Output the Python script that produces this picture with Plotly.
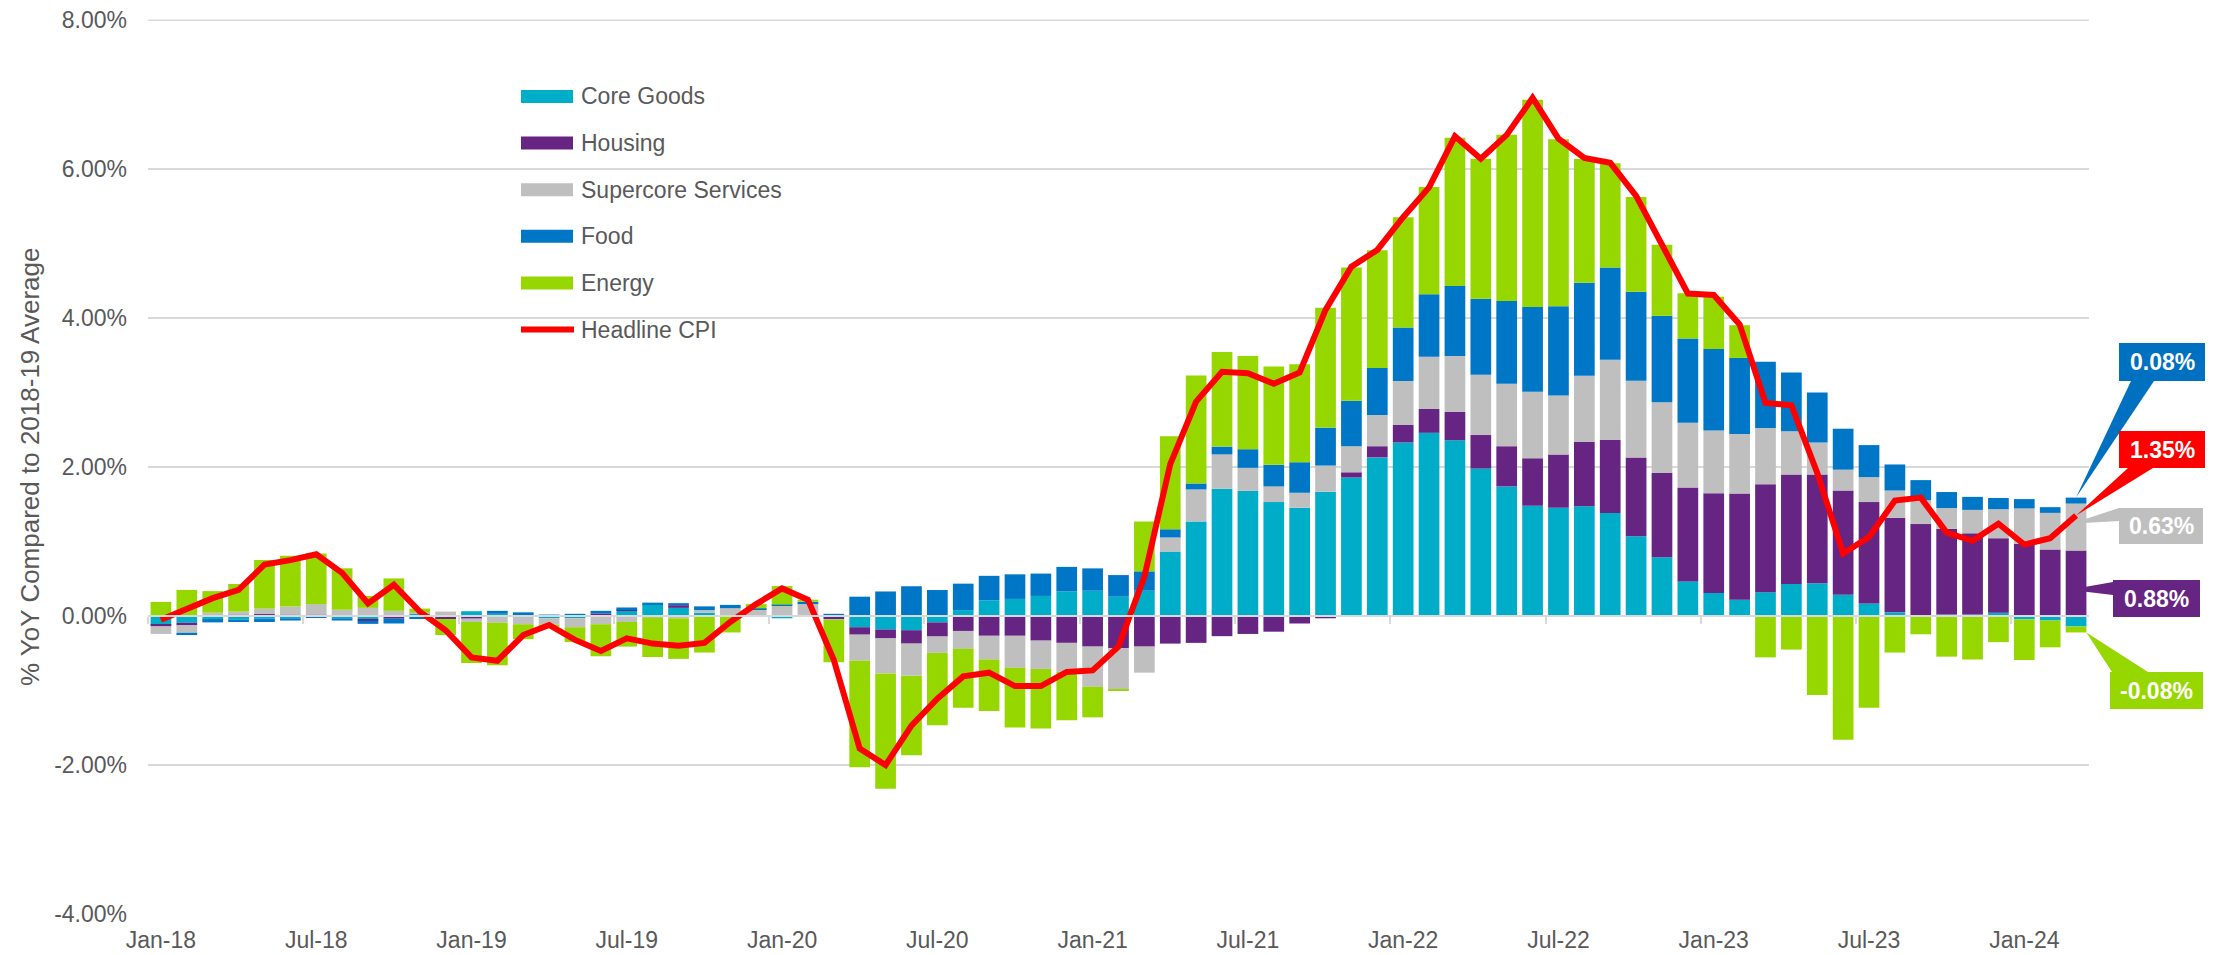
import plotly.graph_objects as go

MONTH_NAMES = ["Jan", "Feb", "Mar", "Apr", "May", "Jun", "Jul", "Aug", "Sep", "Oct", "Nov", "Dec"]
months = [f"{m}-{y}" for y in range(18, 25) for m in MONTH_NAMES][:75]

core_goods = [-0.12, -0.09, -0.04, -0.05, -0.035, -0.03, 0.00, -0.03, -0.045, 0.00,
              0.03, 0.01, 0.065, 0.03, 0.01, -0.03, -0.03, 0.00, 0.07, 0.16,
              0.11, 0.045, 0.01, 0.00, -0.03, 0.015, -0.01, -0.15, -0.18, -0.19,
              -0.085, 0.08, 0.21, 0.23, 0.27, 0.33, 0.34, 0.26, 0.34, 0.865,
              1.27, 1.71, 1.68, 1.53, 1.455, 1.67, 1.86, 2.13, 2.33, 2.46,
              2.36, 1.98, 1.74, 1.48, 1.455, 1.475, 1.385, 1.07, 0.79, 0.465,
              0.31, 0.22, 0.32, 0.43, 0.44, 0.285, 0.17, 0.05, 0.00, 0.02,
              0.02, 0.045, -0.045, -0.06, -0.14]

housing = [-0.02, -0.035, 0.00, 0.02, 0.027, 0.02, 0.02, 0.00, -0.02, -0.035,
           0.00, -0.04, -0.035, 0.00, 0.00, 0.00, 0.00, 0.035, 0.02, 0.00,
           0.036, 0.00, 0.00, 0.00, 0.00, 0.00, -0.03, -0.10, -0.12, -0.18,
           -0.19, -0.20, -0.265, -0.265, -0.33, -0.36, -0.41, -0.43, -0.41, -0.37,
           -0.36, -0.27, -0.24, -0.21, -0.10, -0.03, 0.07, 0.15, 0.235, 0.32,
           0.38, 0.45, 0.54, 0.64, 0.715, 0.86, 0.98, 1.06, 1.13, 1.26,
           1.34, 1.425, 1.45, 1.47, 1.46, 1.40, 1.36, 1.27, 1.235, 1.15,
           1.09, 1.00, 0.97, 0.895, 0.88]

supercore = [-0.10, -0.10, 0.045, 0.04, 0.076, 0.108, 0.14, 0.085, 0.11, 0.07,
             0.02, 0.05, -0.045, -0.09, -0.11, -0.085, -0.12, -0.11, -0.08, -0.02,
             -0.03, 0.035, 0.095, 0.09, 0.135, 0.16, -0.01, -0.35, -0.47, -0.43,
             -0.22, -0.24, -0.32, -0.43, -0.38, -0.39, -0.54, -0.56, -0.35, 0.19,
             0.43, 0.46, 0.31, 0.21, 0.20, 0.35, 0.35, 0.42, 0.59, 0.70,
             0.75, 0.81, 0.84, 0.89, 0.79, 0.89, 1.075, 1.03, 0.95, 0.87,
             0.84, 0.80, 0.755, 0.58, 0.43, 0.28, 0.335, 0.365, 0.32, 0.28,
             0.315, 0.39, 0.475, 0.49, 0.63]

food = [0.00, -0.03, -0.045, -0.03, -0.045, -0.03, -0.02, -0.03, -0.04, -0.065,
        -0.04, 0.00, 0.00, 0.04, 0.04, 0.02, 0.03, 0.035, 0.025, 0.02,
        0.027, 0.05, 0.045, 0.013, 0.018, 0.018, 0.03, 0.26, 0.33, 0.40,
        0.35, 0.355, 0.33, 0.33, 0.30, 0.33, 0.30, 0.29, 0.26, 0.11,
        0.08, 0.105, 0.25, 0.29, 0.41, 0.51, 0.61, 0.63, 0.72, 0.84,
        0.94, 1.02, 1.11, 1.14, 1.20, 1.25, 1.24, 1.195, 1.16, 1.13,
        1.095, 1.02, 0.89, 0.79, 0.67, 0.55, 0.43, 0.35, 0.27, 0.215,
        0.175, 0.15, 0.125, 0.077, 0.08]

energy = [0.19, 0.35, 0.29, 0.37, 0.65, 0.68, 0.68, 0.556, 0.16, 0.435,
          0.05, -0.215, -0.55, -0.57, -0.20, -0.03, -0.20, -0.43, -0.33, -0.53,
          -0.545, -0.49, -0.22, 0.058, 0.25, 0.027, -0.57, -1.43, -1.55, -1.07,
          -0.97, -0.79, -0.69, -0.80, -0.80, -0.65, -0.41, -0.01, 0.67, 1.25,
          1.45, 1.27, 1.25, 1.32, 1.315, 1.61, 1.79, 1.58, 1.48, 1.44,
          1.99, 1.88, 2.23, 2.78, 2.24, 1.66, 1.40, 1.27, 0.955, 0.61,
          0.70, 0.44, -0.555, -0.45, -1.06, -1.66, -1.23, -0.49, -0.245, -0.545,
          -0.585, -0.35, -0.545, -0.36, -0.08]

headline = [-0.05, 0.10, 0.24, 0.35, 0.69, 0.75, 0.83, 0.58, 0.17, 0.42,
            0.06, -0.19, -0.555, -0.60, -0.255, -0.12, -0.32, -0.47, -0.30, -0.37,
            -0.40, -0.36, -0.08, 0.16, 0.37, 0.22, -0.59, -1.78, -2.00, -1.47,
            -1.11, -0.81, -0.76, -0.94, -0.94, -0.75, -0.73, -0.41, 0.53, 2.04,
            2.88, 3.28, 3.26, 3.12, 3.27, 4.11, 4.69, 4.915, 5.355, 5.755,
            6.44, 6.14, 6.46, 6.955, 6.41, 6.15, 6.085, 5.64, 4.97, 4.33,
            4.31, 3.915, 2.86, 2.83, 1.92, 0.84, 1.06, 1.55, 1.59, 1.12,
            1.01, 1.24, 0.96, 1.045, 1.35]

tick_labels = ["Jan-18", "Jul-18", "Jan-19", "Jul-19", "Jan-20", "Jul-20", "Jan-21",
               "Jul-21", "Jan-22", "Jul-22", "Jan-23", "Jul-23", "Jan-24"]
y_ticks = [-4, -2, 0, 2, 4, 6, 8]

# ---- styling / geometry ----
FONT = 'Arial, "Liberation Sans", sans-serif'
TXT = "#595959"
GRID = "#D9D9D9"
COLORS = {"Core Goods": "#00ADC8", "Housing": "#662483", "Supercore Services": "#BFBFBF",
          "Food": "#0076C6", "Energy": "#97D700", "Headline CPI": "#FF0000"}
PAGE_OFF = 8                      # default body margin of the html page
FIG_W, FIG_H = 2216 - PAGE_OFF, 955 - PAGE_OFF
L, T, W, H = 148, 20, 1941, 894   # plot area in page pixels
N = len(months)
X_RANGE = (-0.5, N - 0.5)
Y_RANGE = (-4, 8.002)
BARGAP = 0.2


def xpx(i):
    return L + (i - X_RANGE[0]) / (X_RANGE[1] - X_RANGE[0]) * W


def ypx(v):
    return T + (Y_RANGE[1] - v) / (Y_RANGE[1] - Y_RANGE[0]) * H


def px_x(px):
    return (px - L) / W


def px_y(py):
    return (T + H - py) / H


fig = go.Figure()
series = [("Core Goods", core_goods), ("Housing", housing), ("Supercore Services", supercore),
          ("Food", food), ("Energy", energy)]
for name, vals in series:
    fig.add_trace(go.Bar(x=months, y=vals, name=name,
                         marker=dict(color=COLORS[name], line=dict(width=0)),
                         showlegend=False))
fig.add_trace(go.Scatter(x=months, y=headline, mode="lines", name="Headline CPI",
                         line=dict(color=COLORS["Headline CPI"], width=6),
                         showlegend=False))
# helper trace so the zero-line tick axis is drawn
fig.add_trace(go.Scatter(x=[None], y=[None], xaxis="x2", yaxis="y", showlegend=False,
                         hoverinfo="skip"))

shapes = []
annotations = []

# top gridline (sits on the plot-area edge)
shapes.append(dict(type="line", xref="paper", yref="paper", x0=0, x1=1,
                   y0=px_y(ypx(max(y_ticks))), y1=px_y(ypx(max(y_ticks))),
                   line=dict(color=GRID, width=1.5), layer="below"))

# ---- manual legend ----
legend_names = ["Core Goods", "Housing", "Supercore Services", "Food", "Energy", "Headline CPI"]
for k, name in enumerate(legend_names):
    cy = 96.5 + k * 46.6
    if name == "Headline CPI":
        shapes.append(dict(type="line", xref="paper", yref="paper",
                           x0=px_x(521), x1=px_x(574), y0=px_y(cy), y1=px_y(cy),
                           line=dict(color=COLORS[name], width=6)))
    else:
        shapes.append(dict(type="rect", xref="paper", yref="paper",
                           x0=px_x(521), x1=px_x(573), y0=px_y(cy + 6.5), y1=px_y(cy - 6.5),
                           fillcolor=COLORS[name], line=dict(width=0)))
    annotations.append(dict(xref="paper", yref="paper", x=px_x(579), y=px_y(cy),
                            xanchor="left", yanchor="middle", showarrow=False, text=name,
                            font=dict(family=FONT, size=23, color=TXT)))

# ---- callouts on last bar ----
last = N - 1
cx = xpx(last)
half_bar = (1 - BARGAP) / 2 * W / N
callouts = [
    (f"{food[-1]:.2f}%", "#0070C0", (2119, 2205, 343, 381), [(2131, 381), (2154, 381)],
     (cx, ypx(housing[-1] + supercore[-1] + food[-1]))),
    (f"{headline[-1]:.2f}%", "#FF0000", (2119, 2205, 431, 468), [(2128, 468), (2153, 468)],
     (cx, ypx(headline[-1]))),
    (f"{supercore[-1]:.2f}%", "#BFBFBF", (2119, 2203, 508, 544), [(2119, 508), (2119, 521)],
     (cx - 5, ypx(housing[-1] + 0.57 * supercore[-1]))),
    (f"{housing[-1]:.2f}%", "#662483", (2113, 2200, 580, 617), [(2113, 582), (2113, 595)],
     (cx - 7, ypx(0.4 * housing[-1]))),
    (f"{energy[-1]:.2f}%", "#97D700", (2110, 2203, 672, 709), [(2112, 672), (2148, 672)],
     (cx + half_bar, ypx(core_goods[-1] + energy[-1]))),
]
for text, col, (bx0, bx1, by0, by1), base, tip in callouts:
    shapes.append(dict(type="path", xref="paper", yref="paper",
                       path=(f"M {px_x(tip[0])},{px_y(tip[1])} "
                             f"L {px_x(base[0][0])},{px_y(base[0][1])} "
                             f"L {px_x(base[1][0])},{px_y(base[1][1])} Z"),
                       fillcolor=col, line=dict(width=0)))
    shapes.append(dict(type="rect", xref="paper", yref="paper",
                       x0=px_x(bx0), x1=px_x(bx1), y0=px_y(by1), y1=px_y(by0),
                       fillcolor=col, line=dict(width=0)))
    annotations.append(dict(xref="paper", yref="paper", x=px_x((bx0 + bx1) / 2),
                            y=px_y((by0 + by1) / 2), xanchor="center", yanchor="middle",
                            showarrow=False, text=f"<b>{text}</b>",
                            font=dict(family=FONT, size=23, color="white")))

# ---- y-axis title ----
annotations.append(dict(xref="paper", yref="paper", x=px_x(30), y=px_y(467),
                        xanchor="center", yanchor="middle", showarrow=False, textangle=-90,
                        text="% YoY Compared to 2018-19 Average",
                        font=dict(family=FONT, size=26, color=TXT)))

fig.update_layout(
    width=FIG_W, height=FIG_H,
    margin=dict(l=L - PAGE_OFF, r=FIG_W - (L - PAGE_OFF) - W, t=T - PAGE_OFF,
                b=FIG_H - (T - PAGE_OFF) - H, autoexpand=False),
    barmode="relative", bargap=BARGAP,
    plot_bgcolor="white", paper_bgcolor="white",
    font=dict(family=FONT, size=23, color=TXT),
    showlegend=False,
    xaxis=dict(type="category", range=list(X_RANGE), tickmode="array",
               tickvals=tick_labels, ticktext=tick_labels, showgrid=False,
               zeroline=False, showline=False, ticks="",
               tickfont=dict(family=FONT, size=23, color=TXT), ticklabelstandoff=10),
    xaxis2=dict(overlaying="x", anchor="free",
                position=(0 - Y_RANGE[0]) / (Y_RANGE[1] - Y_RANGE[0]),
                range=list(X_RANGE), tickmode="array",
                tickvals=[i - 0.5 for i in range(0, N, 6)],
                ticks="outside", ticklen=7, tickwidth=2, tickcolor=GRID,
                showticklabels=False, showline=True, linecolor=GRID, linewidth=2,
                showgrid=False, zeroline=False, layer="above traces"),
    yaxis=dict(range=list(Y_RANGE), tickmode="array", tickvals=y_ticks,
               ticktext=[f"{v:.2f}%" for v in y_ticks], showgrid=True,
               gridcolor=GRID, gridwidth=1.5, zeroline=False, showline=False,
               ticks="", ticklabelstandoff=20, ticklabeloverflow="allow",
               tickfont=dict(family=FONT, size=23, color=TXT)),
    shapes=shapes,
    annotations=annotations,
)

fig.write_html("out.html")
